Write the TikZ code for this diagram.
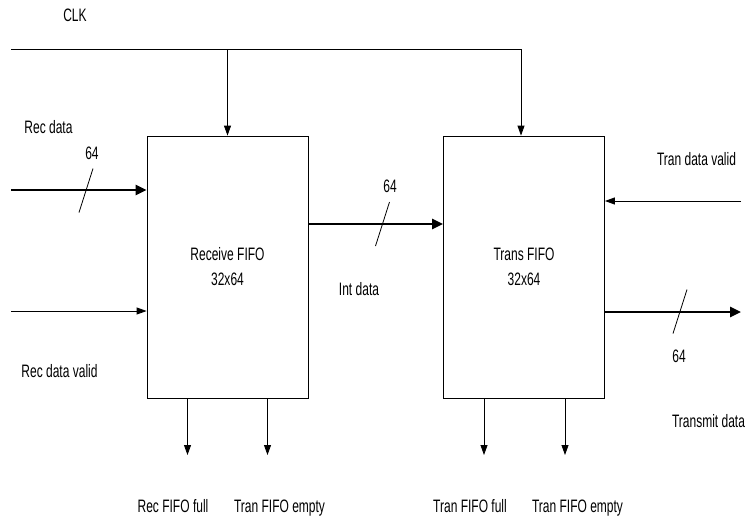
\documentclass[tikz,border=0pt]{standalone}
\usepackage{fontspec}
\setmainfont{Liberation Sans}[FakeStretch=0.667]
\usetikzlibrary{arrows.meta}

\begin{document}
\begin{tikzpicture}[x=1pt,y=-1pt,
		fifo/.style={draw, line width=0.8pt, minimum width=161pt, minimum height=262pt,
			align=center, inner sep=0pt, font=\fontsize{18}{25}\selectfont},
		wire/.style={line width=0.8pt, -{Triangle[length=10pt,width=7pt]}},
		bus/.style={line width=2.6pt, -{Triangle[length=11pt,width=10pt]}},
		lbl/.style={inner sep=0pt, anchor=base, font=\fontsize{18}{22}\selectfont}]
		\def\slashDx{7} % half width of a bus slash
		\def\slashDy{22} % half height of a bus slash
		\def\outY{455} % end of the status arrows
		
		% Page frame
		\useasboundingbox (0,0) rectangle (749,517);
		
		% The two FIFOs
		\node[fifo] (recv) at (227.5,267) {Receive FIFO\\32x64};
		\node[fifo] (trans) at (524,267) {Trans FIFO\\32x64};
		
		% Free ends of the wires
		\coordinate (clkin) at (11,49);
		\coordinate (recin) at (11,190);
		\coordinate (valin) at (11,311);
		\coordinate (tvalin) at (741,201);
		\coordinate (txout) at (741,312);
		
		% Clock
		\node[lbl] (clk) at (75,21.5) {CLK};
		\draw[wire] (clkin) -| ([xshift=-3]trans.north);
		\draw[wire] (recv.north |- clkin) -- (recv.north);
		
		% Inputs and outputs
		\draw[bus] (recin) -- (recv.west |- recin);
		\draw[wire] (valin) -- (recv.west |- valin);
		\draw[bus] (recv.east |- 0,224) coordinate (intout) -- (trans.west |- intout);
		\draw[wire] (tvalin) -- (trans.east |- tvalin);
		\draw[bus] (trans.east |- txout) -- (txout);
		
		% Bus width marks
		\foreach \x/\y/\name in {86/190.5/recbus, 382.5/224/intbus, 680/311.5/txbus} {
			\coordinate (\name) at (\x,\y);
			\draw[line width=0.8pt] ([shift={(-\slashDx,\slashDy)}]\name) -- ([shift={(\slashDx,-\slashDy)}]\name);
		}
		
		% Labels
		\node[lbl] (recdata) at (48.5,133) {Rec data};
		\node[lbl] (recw) at (92,159) {64};
		\node[lbl] (recvalid) at (59.5,377) {Rec data valid};
		\node[lbl] (intw) at (390,192) {64};
		\node[lbl] (intdata) at (359,295) {Int data};
		\node[lbl] (tvalid) at (696.5,165) {Tran data valid};
		\node[lbl] (txw) at (679,362) {64};
		\node[lbl] (txdata) at (708.5,427) {Transmit data};
		
		% Status outputs
		\foreach \fifo/\dx/\name in {recv/-40/rfull, recv/40/rempty, trans/-40/tfull, trans/41/tempty} {
			\coordinate (\name) at ([xshift=\dx]\fifo.south |- 0,\outY);
			\draw[wire] ([xshift=\dx]\fifo.south) -- (\name);
		}
		\node[lbl] (rfulltxt) at (173,512) {Rec FIFO full};
		\node[lbl] (remptytxt) at (279.5,512) {Tran FIFO empty};
		\node[lbl] (tfulltxt) at (470,512) {Tran FIFO full};
		\node[lbl] (temptytxt) at (577.5,512) {Tran FIFO empty};
	\end{tikzpicture}
\end{document}
